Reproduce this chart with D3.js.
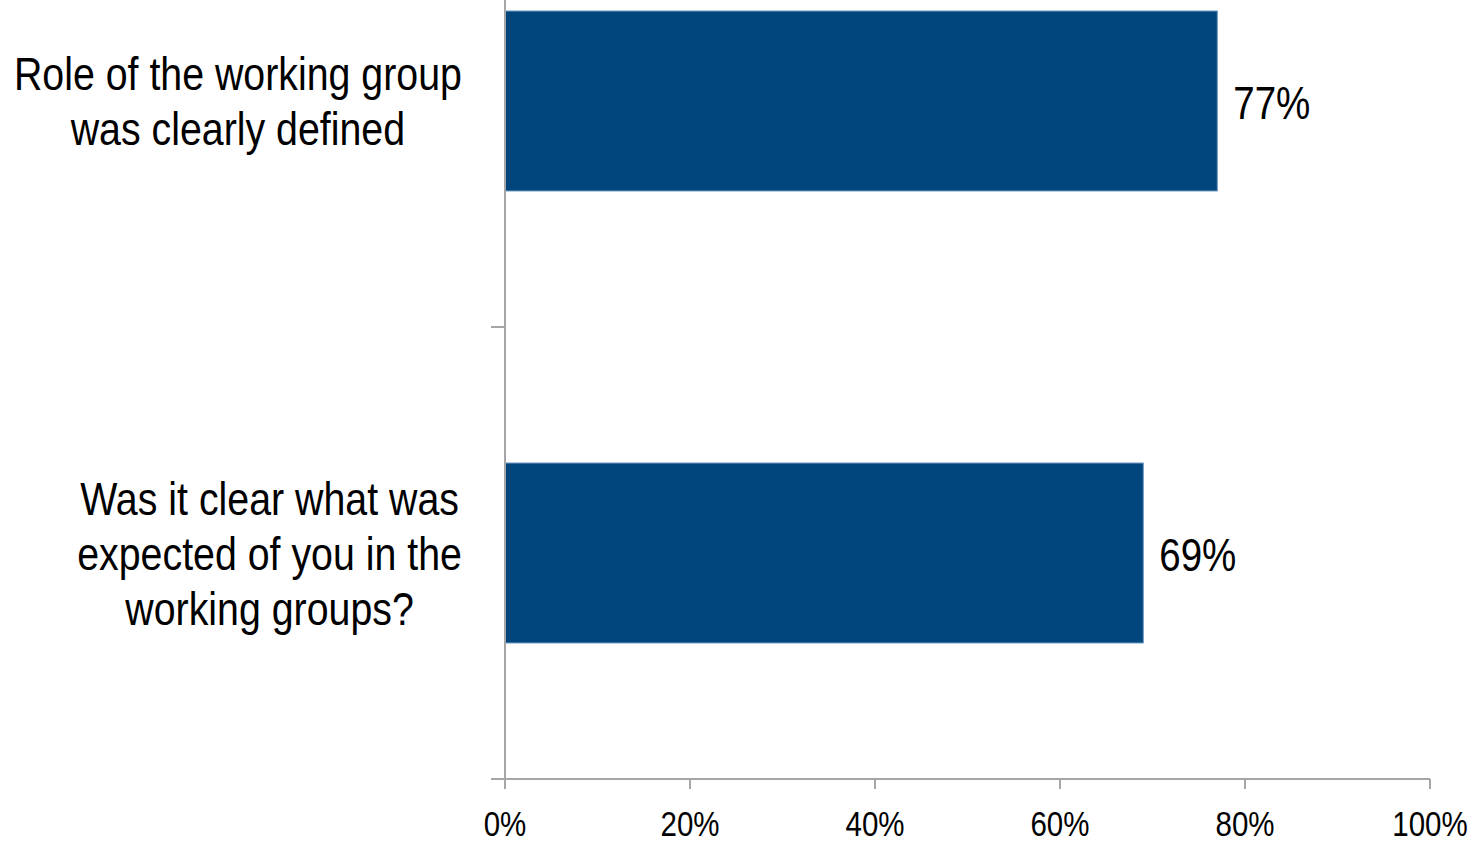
<!DOCTYPE html>
<html>
<head>
<meta charset="utf-8">
<script src="https://cdn.jsdelivr.net/npm/d3@7"></script>
<style>
  body { margin: 0; background: #fff; }
  svg text { font-family: "Liberation Sans", Arial, sans-serif; fill: #000; }
</style>
</head>
<body>
<div id="chart"></div>
<script>
const categories = [
  ['Role of the working group', 'was clearly defined'],
  ['Was it clear what was', 'expected of you in the', 'working groups?']
];
const values = [77, 69];
const xTicks = [0, 20, 40, 60, 80, 100];

const width = 1475;
const height = 841;
const plotLeft = 505, plotRight = 1430, plotTop = -125, plotBottom = 779;
// squeeze Liberation Sans to look like Arial Narrow
const narrow = 0.82;
const narrowCat = 0.855;

const svg = d3.select('#chart')
  .append('svg')
  .attr('width', width)
  .attr('height', height);

const x = d3.scaleLinear().domain([0, 100]).range([plotLeft, plotRight]);

const y = d3.scaleBand()
  .domain(d3.range(categories.length))
  .range([plotTop, plotBottom])
  .paddingInner(0.602)
  .paddingOuter(0.301);

const axisColor = '#a6a6a6';

// Bars
svg.selectAll('.bar')
  .data(values)
  .enter()
  .append('rect')
  .attr('class', 'bar')
  .attr('x', x(0))
  .attr('y', (_, i) => y(i))
  .attr('width', (d) => x(d) - x(0))
  .attr('height', y.bandwidth())
  .attr('fill', '#00467d')
  .attr('stroke', '#5f8fbb')
  .attr('stroke-width', 1);

// Value labels
svg.selectAll('.val')
  .data(values)
  .enter()
  .append('text')
  .attr('class', 'val')
  .attr('transform', (d, i) => `translate(${x(d) + 16},${y(i) + y.bandwidth() / 2 + 18}) scale(${narrow},1)`)
  .attr('font-size', 47)
  .text((d) => d + '%');

// X axis
const xAxis = svg.append('g').attr('transform', `translate(0,${plotBottom})`);
xAxis.append('line')
  .attr('x1', plotLeft - 14).attr('x2', plotRight)
  .attr('y1', 0).attr('y2', 0)
  .attr('stroke', axisColor).attr('stroke-width', 2);
xAxis.selectAll('.tick')
  .data(xTicks)
  .enter()
  .append('line')
  .attr('x1', (d) => x(d)).attr('x2', (d) => x(d))
  .attr('y1', 0).attr('y2', 10)
  .attr('stroke', axisColor).attr('stroke-width', 2);
xAxis.selectAll('.lbl')
  .data(xTicks)
  .enter()
  .append('text')
  .attr('transform', (d) => `translate(${x(d)},57) scale(${narrow},1)`)
  .attr('text-anchor', 'middle')
  .attr('font-size', 36)
  .text((d) => d + '%');

// Y axis
svg.append('line')
  .attr('x1', plotLeft).attr('x2', plotLeft)
  .attr('y1', plotTop).attr('y2', plotBottom + 10)
  .attr('stroke', axisColor).attr('stroke-width', 2);
const step = y.step();
const bounds = d3.range(categories.length + 1).map((i) => plotTop + i * step);
svg.selectAll('.ytick')
  .data(bounds)
  .enter()
  .append('line')
  .attr('x1', plotLeft - 14).attr('x2', plotLeft)
  .attr('y1', (d) => d).attr('y2', (d) => d)
  .attr('stroke', axisColor).attr('stroke-width', 2);

// Category labels: centred lines, block right-aligned near the axis
const lineH = 55;
categories.forEach((lines, i) => {
  const g = svg.append('g');
  const t = g.append('text')
    .attr('font-size', 46)
    .attr('text-anchor', 'middle');
  const cy = y(i) + y.bandwidth() / 2;
  lines.forEach((s, j) => {
    t.append('tspan')
      .attr('x', 0)
      .attr('y', cy + (j - (lines.length - 1) / 2) * lineH + 17)
      .text(s);
  });
  const w = t.node().getBBox().width * narrowCat;
  g.attr('transform', `translate(${462 - w / 2},0) scale(${narrowCat},1)`);
});
</script>
</body>
</html>
